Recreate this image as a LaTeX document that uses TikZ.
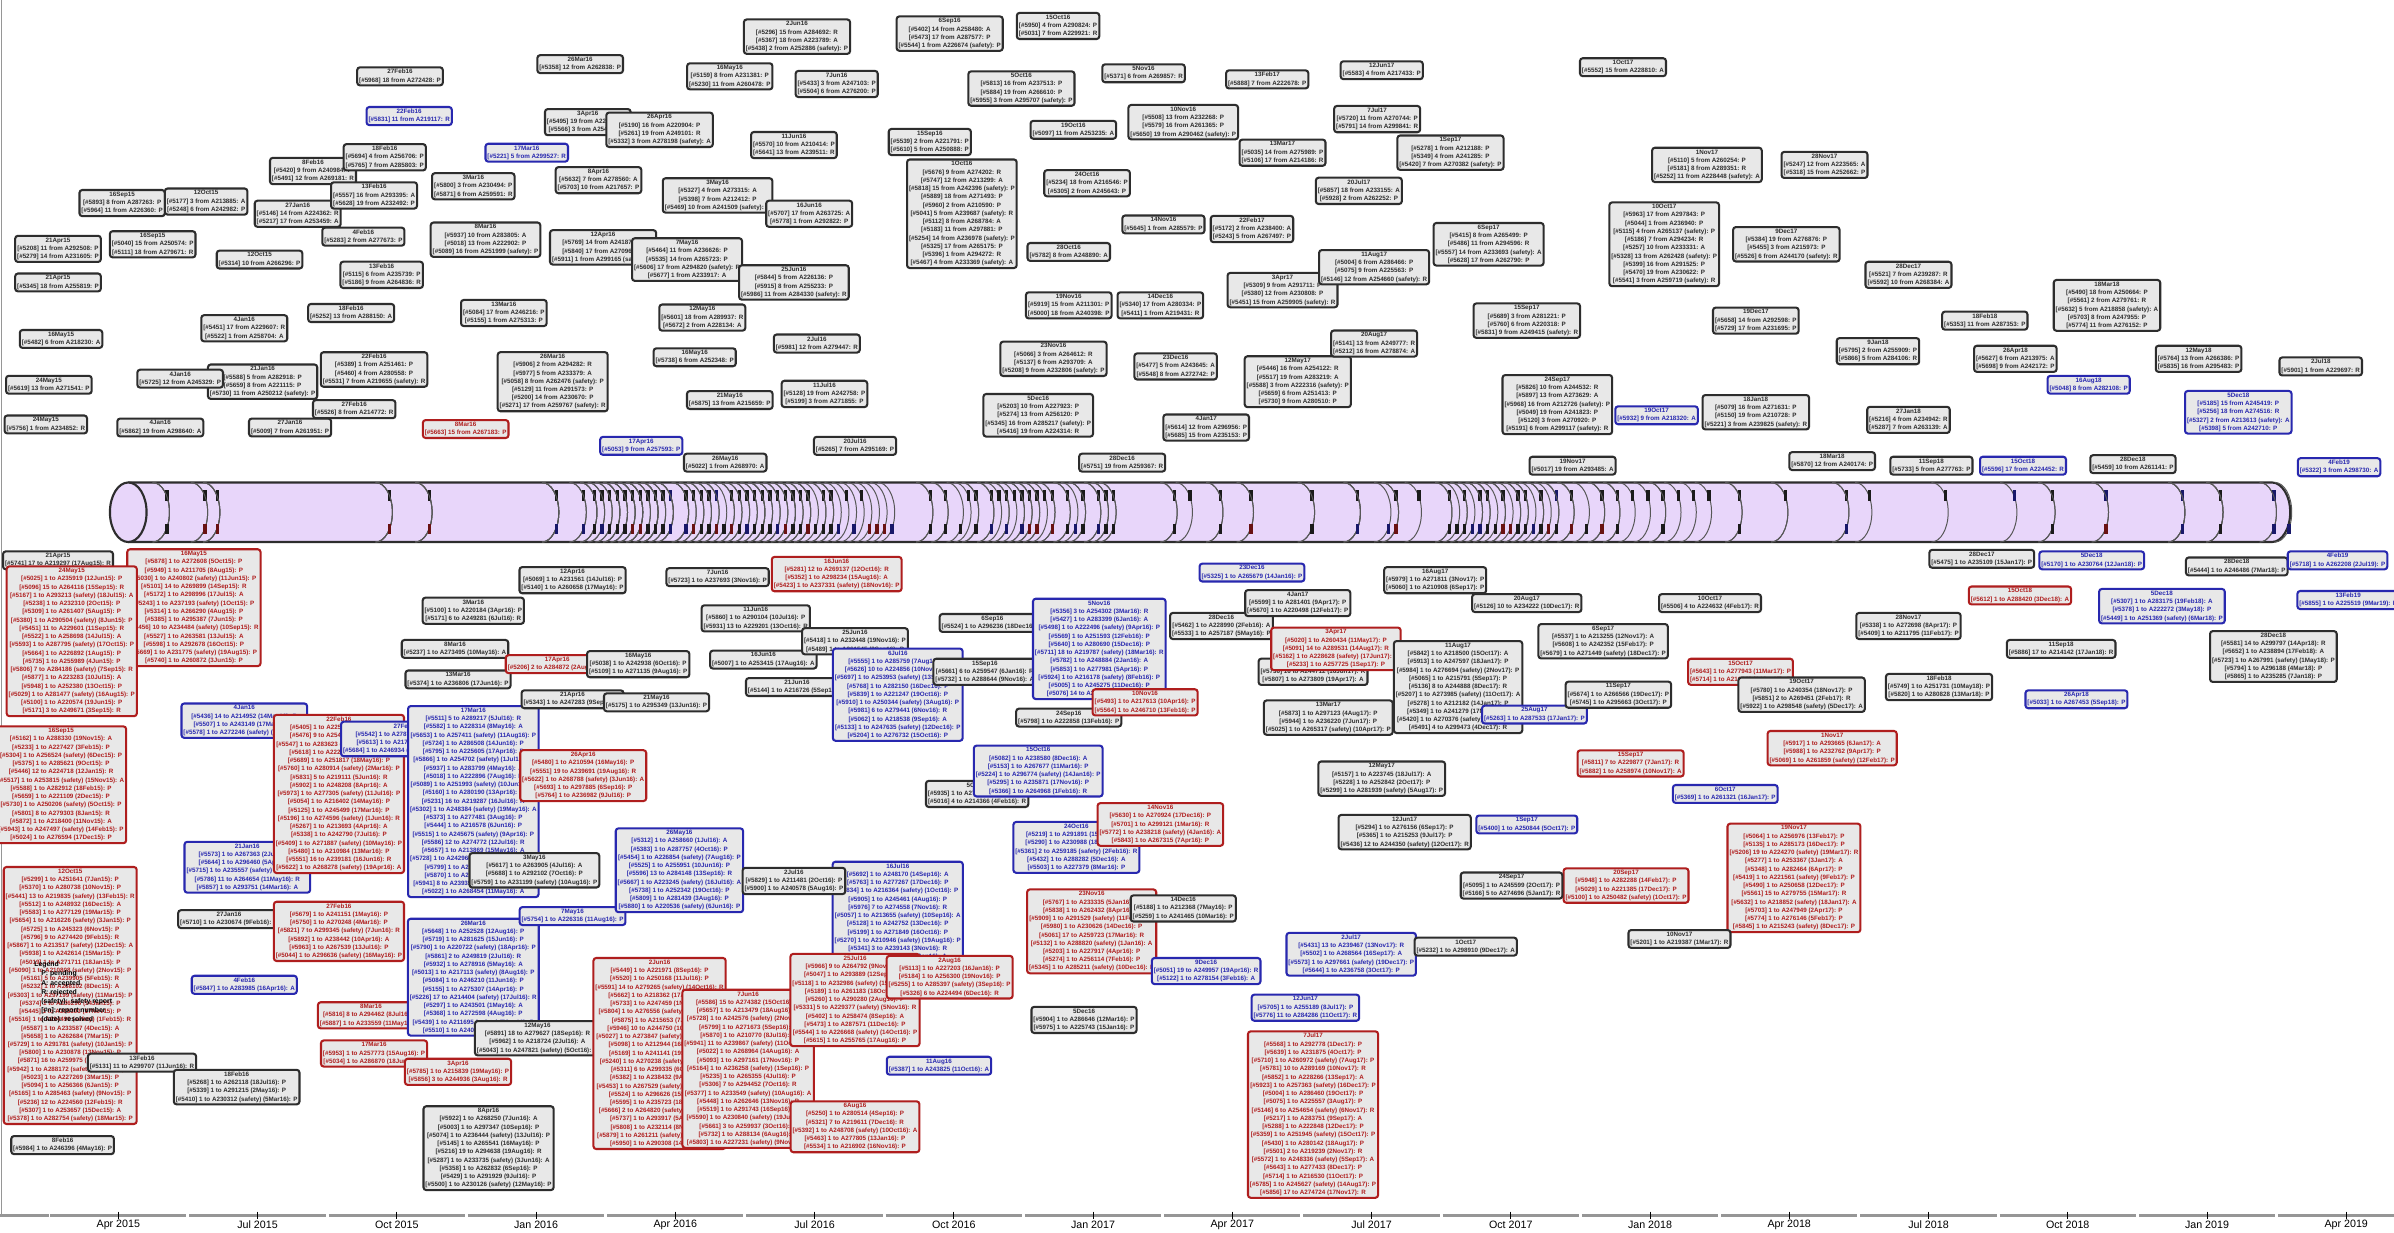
\documentclass[tikz,border=0pt]{standalone}
\usepackage{fontspec}
\setmainfont{Liberation Sans}
\pgfdeclarelayer{bg}
\pgfsetlayers{bg,main}
\definecolor{bk}{RGB}{45,45,45}
\definecolor{bb}{RGB}{40,40,175}
\definecolor{br}{RGB}{175,30,30}
\definecolor{boxfill}{RGB}{232,232,232}
\definecolor{cylfill}{RGB}{232,214,250}
\definecolor{connc}{RGB}{178,178,178}
\definecolor{axisc}{RGB}{150,150,150}
\newcount\modc
\def\setmod#1#2#3{\modc=\numexpr#2\relax\divide\modc by #3\relax\multiply\modc by #3\relax\edef#1{\the\numexpr(#2)-\modc\relax}}
\def\mname#1{\ifcase#1 Jan\or Feb\or Mar\or Apr\or May\or Jun\or Jul\or Aug\or Sep\or Oct\or Nov\or Dec\fi}
\def\ltrof#1{\ifcase#1 P\or A\or P\or R\or P\fi}
\newcommand\boxfont{\fontsize{4.1}{5.4}\selectfont\bfseries}
\tikzset{
  box/.style={rounded corners=1.8pt, line width=1.35pt, fill=boxfill, inner sep=1.3pt, align=center, font=\boxfont},
  conn/.style={draw=connc, line width=0.55pt},
  cylline/.style={draw=bk, line width=1.4pt},
  arcline/.style={draw=bk!80, line width=0.65pt},
  axisline/.style={draw=axisc, line width=1.6pt},
  tickmark/.style={draw=black, line width=0.6pt},
  axislabel/.style={font=\fontsize{7}{8}\selectfont, inner sep=0pt}
}
\newcommand\placeboxes[1]{%
\foreach \x/\y/\n/\c/\a [count=\k from #1] in \boxlist {%
  \pgfmathsetmacro\tq{(\a-77.5)/30.4}%
  \pgfmathtruncatemacro\mo{floor(\tq)}%
  \pgfmathtruncatemacro\dd{1+floor((\tq-\mo)*28)}%
  \pgfmathtruncatemacro\mi{mod(\mo+3,12)}%
  \pgfmathtruncatemacro\yr{15+floor((\mo+3)/12)}%
  \xdef\bxtxt{\dd\mname{\mi}\yr}%
  \foreach \i in {1,...,\n}{%
    \setmod\na{\k*137+\i*71}{990}%
    \setmod\nb{\k*7+\i*3}{19}%
    \setmod\nc{\k*53+\i*29}{90}%
    \setmod\nd{\k*311+\i*97}{900}%
    \setmod\nl{\k+\i*3}{5}%
    \setmod\ns{\k*3+\i}{3}%
    \setmod\mj{\mi+1+\nl}{12}%
    \ifnum\y<335
      \xdef\bxtxt{\unexpanded\expandafter{\bxtxt}\noexpand\\{}[\noexpand\#\the\numexpr5000+\na\relax] \the\numexpr1+\nb\relax\space from A2\the\numexpr10+\nc\relax\the\numexpr100+\nd\relax\ifnum\ns=0 \space(safety)\fi: \ltrof\nl}%
    \else
      \xdef\bxtxt{\unexpanded\expandafter{\bxtxt}\noexpand\\{}[\noexpand\#\the\numexpr5000+\na\relax] \ifnum\nl=3 \the\numexpr1+\nb\relax\else 1\fi\space to A2\the\numexpr10+\nc\relax\the\numexpr100+\nd\relax\ifnum\ns=0 \space(safety)\fi\space(\the\numexpr1+\nb\relax\mname{\mj}\yr): \ltrof\nl}%
    \fi
  }%
  \pgfmathsetmacro\ya{\y<335 ? 316 : 355}%
  \pgfmathsetmacro\ym{\y<335 ? 321 : 343}%
  \draw[arcline] (\a,316) arc[start angle=90, end angle=-90, x radius=11pt, y radius=19.5pt];
  \fill[\c!60!black] (\a+8.2,\ym) rectangle (\a+10.4,\ym+7);
  \node[box, draw=\c, text=\c] (n\k) at (\x,\y) {\bxtxt};
  \coordinate (a\k) at (\a,\ya);
  \begin{pgfonlayer}{bg}\draw[conn] (n\k) -- (a\k);\end{pgfonlayer}
}}
\begin{document}
\begin{tikzpicture}[x=1pt,y=-1pt]
\useasboundingbox (0,0) rectangle (1568,807);
\fill[white] (0,0) rectangle (1568,807);
% frame line
\draw[axisc, line width=0.8pt] (1.2,0) -- (1.2,796);
% cylinder
\fill[cylfill] (84,316) -- (1488,316) arc[start angle=90,end angle=-90,x radius=12pt,y radius=19.5pt] -- (84,355) -- cycle;
\draw[cylline] (84,316) -- (1488,316) arc[start angle=90,end angle=-90,x radius=12pt,y radius=19.5pt] -- (84,355);
\draw[cylline, fill=cylfill] (84,335.5) ellipse[x radius=12pt, y radius=19.5pt];
% top boxes
\def\boxlist{38/163/2/bk/100, 38/185/1/bk/100, 40/222/1/bk/125, 32/252/1/bk/133, 30/278/1/bk/133, 80/133/2/bk/246, 100/160/2/bk/246, 135/132/2/bk/272, 170/170/1/bk/272, 160/215/2/bk/355, 172/250/3/bk/373, 118/248/1/bk/355, 105/280/1/bk/355, 190/280/1/bk/380, 195/140/2/bk/380, 238/155/1/bk/385, 205/112/2/bk/390, 245/128/2/bk/395, 252/103/2/bk/400, 268/76/1/bb/405, 262/50/1/bk/410, 250/180/2/bk/395, 230/205/1/bk/400, 245/242/3/bk/405, 232/268/1/bk/410, 305/281/1/br/420, 310/122/2/bk/415, 318/157/3/bk/420, 330/205/2/bk/425, 345/100/1/bb/430, 380/42/1/bk/440, 385/80/2/bk/445, 392/118/2/bk/450, 395/162/3/bk/455, 362/250/6/bk/440, 420/292/1/bb/460, 432/85/3/bk/470, 470/128/3/bk/475, 450/170/4/bk/480, 460/208/2/bk/485, 455/234/1/bk/490, 478/262/1/bk/495, 475/303/1/bk/500, 478/50/2/bk/490, 522/24/3/bk/505, 548/55/2/bk/510, 520/95/2/bk/515, 530/140/2/bk/520, 520/185/3/bk/530, 535/225/1/bk/535, 540/258/2/bk/545, 560/292/1/bk/555, 622/22/3/bk/600, 609/93/2/bk/610, 630/140/12/bk/625, 669/58/3/bk/630, 693/17/2/bk/640, 703/85/1/bk/645, 712/120/2/bk/650, 749/48/1/bk/660, 775/80/3/bk/665, 762/147/1/bk/670, 700/165/1/bk/655, 700/200/2/bk/675, 690/235/3/bk/680, 680/272/4/bk/690, 760/200/2/bk/700, 770/240/2/bk/710, 790/280/2/bk/720, 735/303/1/bk/715, 830/52/1/bk/760, 840/100/2/bk/790, 820/150/2/bk/770, 840/190/3/bk/810, 850/250/5/bk/850, 905/46/1/bk/880, 902/78/2/bk/905, 890/125/2/bk/920, 900/175/3/bk/940, 900/225/2/bk/950, 950/100/3/bk/960, 975/160/4/bk/965, 1063/44/1/bk/990, 1000/210/3/bk/975, 1020/265/6/bk/985, 1090/160/9/bk/1000, 1118/108/3/bk/1020, 1195/108/2/bk/1050, 1170/160/3/bk/1060, 1250/180/2/bk/1080, 1150/210/2/bk/1070, 1230/230/2/bk/1090, 1085/272/1/bb/1010, 1150/270/3/bk/1100, 1250/275/2/bk/1110, 1300/210/1/bk/1130, 1380/200/5/bk/1160, 1320/235/2/bk/1200, 1440/235/2/bk/1215, 1520/240/1/bk/1265, 1368/252/1/bb/1310, 1466/270/4/bb/1420, 1532/306/1/bb/1480, 1397/304/1/bk/1445, 1325/305/1/bb/1370, 1265/305/1/bk/1335, 1200/302/1/bk/1160, 1030/305/1/bk/1040}
\placeboxes{1}
% bottom boxes
\def\boxlist{38/367/1/bk/100, 127/398/13/br/125, 47/420/17/br/133, 40/514/13/br/246, 46/652/30/br/272, 160/472/3/bb/355, 162/568/5/bb/373, 150/602/1/bk/380, 160/645/1/bb/385, 41/750/1/bk/390, 93/696/1/bk/395, 155/712/3/bk/400, 222/520/18/br/405, 266/484/3/bb/410, 222/610/6/br/410, 243/665/2/br/420, 245/690/2/br/430, 310/400/2/bk/415, 298/425/1/bk/420, 300/445/1/bk/425, 310/525/22/bb/430, 310/640/13/bb/440, 300/702/2/br/445, 320/752/9/bk/450, 375/380/2/bk/455, 365/435/1/br/460, 375/458/1/bk/465, 382/508/5/br/470, 350/570/3/bk/475, 375/600/1/bb/480, 352/680/3/bk/485, 418/435/2/bk/490, 430/460/1/bk/495, 445/570/9/bb/500, 432/690/22/br/505, 490/700/18/br/510, 470/378/1/bk/510, 495/405/2/bk/515, 500/432/1/bk/520, 522/450/1/bk/525, 548/376/3/br/520, 560/420/2/bk/530, 588/455/10/bb/540, 588/600/12/bb/550, 520/577/2/bk/535, 560/655/10/br/560, 622/640/4/br/565, 560/738/5/br/570, 615/698/1/bb/575, 650/408/1/bk/600, 645/440/2/bk/610, 700/470/1/bk/620, 640/520/2/bk/630, 680/505/5/bb/640, 705/555/5/bb/650, 720/425/11/bb/660, 750/460/2/br/665, 760/540/4/br/670, 715/610/9/br/680, 710/668/2/bk/690, 790/636/2/bb/695, 775/595/2/bk/700, 820/375/1/bb/710, 800/410/2/bk/715, 850/395/2/bk/720, 860/440/2/bk/760, 870/470/3/bk/790, 875/425/4/br/810, 905/510/3/bk/850, 920/545/3/bk/880, 885/625/4/bb/900, 860/730/19/br/905, 855/660/2/bb/880, 955/450/10/bk/940, 940/380/2/bk/945, 1000/395/1/bk/950, 1005/468/1/bb/955, 1000/540/1/bb/960, 1050/420/3/bk/965, 1060/455/2/bk/970, 1068/500/2/br/975, 1065/580/3/br/980, 990/580/2/bk/985, 960/620/1/bk/990, 1130/520/1/bb/995, 1120/395/1/bk/1000, 1140/440/2/br/1005, 1180/455/3/bk/1010, 1200/490/3/br/1020, 1175/575/12/br/1040, 1100/615/1/bk/1030, 1250/410/2/bk/1050, 1298/366/1/bk/1080, 1323/390/1/br/1370, 1270/450/2/bk/1130, 1350/425/1/bk/1335, 1360/458/1/bb/1200, 1370/367/1/bb/1420, 1416/397/3/bb/1420, 1465/371/1/bk/1445, 1489/430/5/bk/1445, 1531/367/1/bb/1480, 1538/393/1/bb/1490}
\placeboxes{200}
% legend
\node[font=\fontsize{4.5}{6}\selectfont\bfseries, align=left, text=black, inner sep=0pt] (legend) at (48,650) {Legend\\\quad P: pending\\\quad A: accepted\\\quad R: rejected\\\quad (safety): safety report\\\quad [\#n]: report number\\\quad (date): resolved};
% axis
\draw[axisline] (0,796) -- (31.9,796);
\foreach \q [count=\j from 0] in {Apr 2015,Jul 2015,Oct 2015,Jan 2016,Apr 2016,Jul 2016,Oct 2016,Jan 2017,Apr 2017,Jul 2017,Oct 2017,Jan 2018,Apr 2018,Jul 2018,Oct 2018,Jan 2019,Apr 2019}{
  \pgfmathsetmacro\tx{77.5+91.2*\j}
  \draw[axisline] (\tx-44.6,796) -- (\tx+44.6,796);
  \draw[tickmark] (\tx,793.5) -- (\tx,798.5);
  \node[axislabel] (lab\j) at (\tx,802) {\q};
}
\end{tikzpicture}
\end{document}
